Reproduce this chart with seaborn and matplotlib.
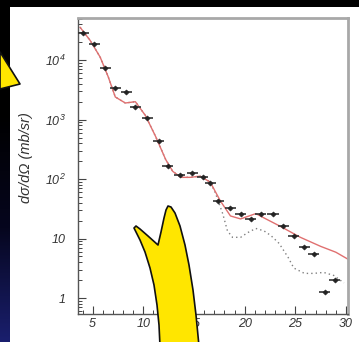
import numpy as np
import pandas as pd
import matplotlib
matplotlib.use("Agg")
import matplotlib.pyplot as plt
import seaborn as sns
from matplotlib.path import Path
from matplotlib.patches import PathPatch, Rectangle
from matplotlib.colors import LinearSegmentedColormap

plt.rcParams["mathtext.fontset"] = "custom"
plt.rcParams["mathtext.rm"] = "Liberation Sans:italic"
plt.rcParams["mathtext.it"] = "Liberation Sans:italic"
plt.rcParams["mathtext.default"] = "rm"

# ---- data (angle in degrees, dsigma/dOmega in mb/sr) ----
pt_x = [4.06, 5.15, 6.24, 7.23, 8.32, 9.21, 10.4, 11.5, 12.4, 13.6, 14.85, 15.85,
        16.6, 17.4, 18.6, 19.6, 20.6, 21.6, 22.8, 23.8, 24.85, 25.9, 26.8, 27.9, 28.9]
pt_y = [29000, 19000, 7400, 3400, 2900, 1600, 1050, 430, 165, 117, 126, 108,
        86, 43, 33, 26, 21.5, 26, 26, 16.5, 11.2, 7.1, 5.6, 1.26, 2.0]
pt_xerr = 0.55

red_x = [3.76, 4.75, 5.74, 6.53, 7.23, 8.22, 9.21, 10.2, 11.2, 12.2, 12.9, 13.7, 14.65,
         15.6, 16.6, 17.6, 18.6, 19.6, 21.1, 22.1, 23.6, 25.5, 27.5, 29.0, 30.2]
red_y = [35500, 21400, 11200, 5250, 2400, 1900, 2000, 1175, 525, 214, 135, 107, 107,
         112, 89, 43, 24, 21.4, 26.3, 21.4, 15.8, 10.5, 7.4, 5.9, 4.5]

dot_x = [3.76, 4.75, 5.74, 6.53, 7.23, 8.22, 9.21, 10.2, 11.2, 12.2, 12.9, 13.7, 14.65,
         15.6, 16.6, 17.1, 17.84, 18.3, 18.8, 19.6, 20.3, 21.1, 21.9, 22.6, 23.4, 24.3,
         24.85, 25.9, 26.8, 27.8, 28.8, 29.8]
dot_y = [35500, 21400, 11200, 5250, 2400, 1900, 2000, 1175, 525, 214, 135, 107, 107,
         112, 89, 59, 26, 13.5, 10.5, 10.5, 12.6, 14.8, 13.5, 11.2, 8.3, 4.8,
         3.2, 2.6, 2.6, 2.7, 2.4, 1.8]

x_ticks = [5, 10, 15, 20, 25, 30]
y_ticks = [1, 10, 100, 1000, 10000]
y_ticklabels = ["1", "10", "10$^{2}$", "10$^{3}$", "10$^{4}$"]

W, H = 359, 342
fig = plt.figure(figsize=(W / 100, H / 100), dpi=100)
fig.patch.set_facecolor("white")


def fx(x):
    return x / W


def fy(y):
    return 1 - y / H


# dark frame: top strip and left strip with gradient
grad_ax = fig.add_axes([0, 0, fx(10), 1])
grad = np.linspace(0, 1, 256).reshape(-1, 1)
cm = LinearSegmentedColormap.from_list("bg", ["#000000", "#000000", "#06061e", "#1a1f6e"])
grad_ax.imshow(grad, aspect="auto", cmap=cm, extent=[0, 1, 1, 0])
grad_ax.set_axis_off()
fig.patches.append(Rectangle((0, fy(7)), 1, 1 - fy(7), transform=fig.transFigure,
                             facecolor="black", edgecolor="none", zorder=1))

ax = fig.add_axes([fx(78), fy(314), fx(348) - fx(78), fy(18) - fy(314)])
ax.set_facecolor("white")

df_red = pd.DataFrame({"x": red_x, "y": red_y})
df_dot = pd.DataFrame({"x": dot_x, "y": dot_y})
df_pt = pd.DataFrame({"x": pt_x, "y": pt_y})

sns.lineplot(data=df_dot, x="x", y="y", ax=ax, color="#808080", lw=1.0,
             linestyle=(0, (1, 2.2)), sort=False)
sns.lineplot(data=df_red, x="x", y="y", ax=ax, color="#e07070", lw=1.0, sort=False)
ax.errorbar(pt_x, pt_y, xerr=pt_xerr, fmt="none", ecolor="#333333", elinewidth=1.2,
            capsize=0, zorder=4)
sns.scatterplot(data=df_pt, x="x", y="y", ax=ax, marker="D", s=7, color="#222222",
                edgecolor="#222222", linewidth=0.4, zorder=5)

ax.set_yscale("log")
ax.set_xlim(3.55, 30.2)
ax.set_ylim(0.54, 5.1e4)
ax.set_xticks(x_ticks)
ax.set_xticklabels([str(v) for v in x_ticks])
ax.set_xticks(np.arange(4, 31, 1), minor=True)
ax.set_yticks(y_ticks)
ax.set_yticklabels(y_ticklabels)
ax.yaxis.set_minor_locator(matplotlib.ticker.LogLocator(base=10, subs=np.arange(2, 10)))
ax.yaxis.set_minor_formatter(matplotlib.ticker.NullFormatter())
ax.tick_params(axis="both", which="major", direction="in", length=6, width=0.8,
               color="#444444", labelsize=9, labelcolor="#333333")
ax.tick_params(axis="both", which="minor", direction="in", length=3, width=0.7,
               color="#444444")
ax.tick_params(axis="y", pad=9)
ax.tick_params(axis="x", pad=3)
for lab in ax.get_xticklabels() + ax.get_yticklabels():
    lab.set_fontfamily("Liberation Sans")
    lab.set_fontstyle("italic")
ax.set_xlabel("")
ax.set_ylabel("dσ/dΩ (mb/sr)", fontsize=10.5, color="#333333",
              fontstyle="italic", fontfamily=["Liberation Sans", "DejaVu Sans"])
ax.yaxis.set_label_coords(-(78 - 33) / 270, 0.53)

for s in ["left", "bottom"]:
    ax.spines[s].set_color("#555555")
    ax.spines[s].set_linewidth(1.0)
for s in ["top", "right"]:
    ax.spines[s].set_color("#a8a8a8")
    ax.spines[s].set_linewidth(2.0)


# decorative yellow shapes (from the slide)
def add_shape(pts):
    verts = [(fx(x), fy(y)) for x, y in pts] + [(0, 0)]
    codes = [Path.MOVETO] + [Path.LINETO] * (len(pts) - 1) + [Path.CLOSEPOLY]
    fig.patches.append(PathPatch(Path(verts, codes), transform=fig.transFigure,
                                 facecolor="#ffe600", edgecolor="#111111", lw=1.2,
                                 joinstyle="round", zorder=20))


add_shape([(0, 52), (20, 84), (0, 89)])
add_shape([(160, 346), (159, 325), (157, 305), (154, 285), (150, 268), (145, 252),
           (140, 240), (136, 232), (134, 228), (136, 226), (140, 229), (148, 236),
           (158, 245), (161, 232), (164, 218), (166, 210), (168, 206), (171, 207),
           (175, 213), (180, 226), (185, 245), (189, 265), (193, 290), (196, 315),
           (199, 346)])

fig.savefig("out.png", dpi=100, facecolor=fig.get_facecolor())
